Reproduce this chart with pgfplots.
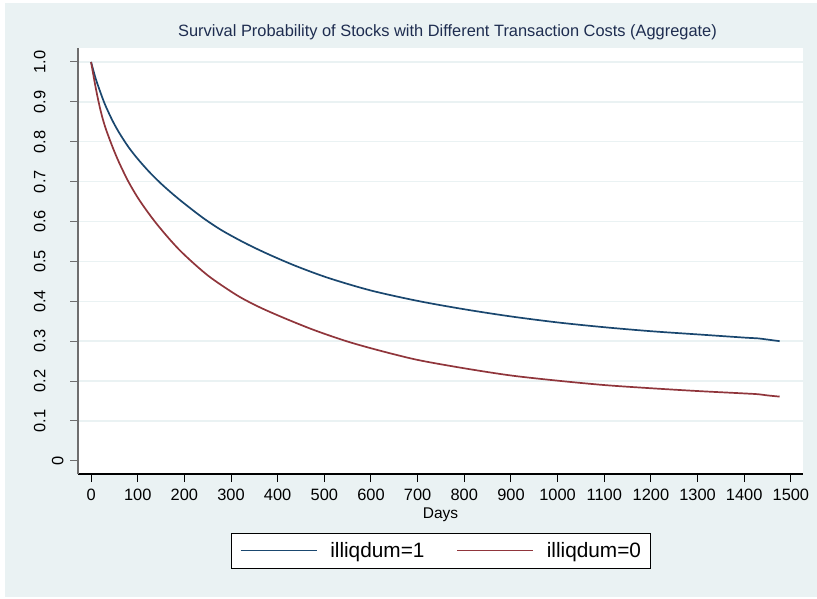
\documentclass[border=0pt]{standalone}
\usepackage{pgfplots}
\pgfplotsset{compat=1.18}
\usepackage{fontspec}
\setmainfont{Liberation Sans}
\definecolor{bgc}{RGB}{234,242,243}
\definecolor{sblue}{RGB}{26,71,111}
\definecolor{sred}{RGB}{144,53,59}
\definecolor{ttl}{RGB}{30,45,80}
\definecolor{ygray}{RGB}{110,110,110}
\begin{document}
\begin{tikzpicture}
\useasboundingbox (0,0) rectangle (817pt,598pt);
\fill[bgc] (5pt,1pt) rectangle (817pt,595pt);
\begin{axis}[
 at={(78pt,124pt)}, anchor=south west,
 scale only axis, width=725pt, height=426pt,
 xmin=-28, xmax=1526, ymin=-0.033, ymax=1.035,
 axis background/.style={fill=white},
 axis x line*=bottom, axis y line*=left,
 x axis line style={black, line width=1.2pt, -},
 y axis line style={ygray, line width=1.6pt, -},
 xtick={0,100,200,300,400,500,600,700,800,900,1000,1100,1200,1300,1400,1500},
 xticklabels={0,100,200,300,400,500,600,700,800,900,1000,1100,1200,1300,1400,1500},
 ytick={0.1,0.2,0.3,0.4,0.5,0.6,0.7,0.8,0.9,1.0},
 yticklabels={0.1,0.2,0.3,0.4,0.5,0.6,0.7,0.8,0.9,1.0},
 extra y ticks={0}, extra y tick labels={0},
 extra y tick style={ymajorgrids=false, yticklabel shift=3pt},
 ymajorgrids, grid style={bgc, line width=1.4pt},
 tick align=outside,
 major tick length=8pt,
 xtick style={black, line width=1pt},
 ytick style={ygray, line width=1pt},
 tick label style={font=\fontsize{16.4}{19}\selectfont},
 /pgf/number format/assume math mode=true,
 /pgf/number format/1000 sep={},
 xticklabel shift=3.5pt,
 yticklabel style={rotate=90, anchor=south},
 yticklabel shift=21pt,
 xlabel={Days},
 xlabel style={at={(axis description cs:0.5,0)}, anchor=base, yshift=-44.5pt, font=\fontsize{15.5}{18}\selectfont},
 title={Survival Probability of Stocks with Different Transaction Costs (Aggregate)},
 title style={at={(axis description cs:0.5,1)}, anchor=base, yshift=5.5pt, xshift=7pt, font=\fontsize{16.4}{19}\selectfont, text=ttl},
 legend columns=2,
 legend style={at={(axis description cs:0.5,-0.1385)}, anchor=north, draw=black, fill=white, line width=0.8pt,
   font=\fontsize{20.8}{24}\selectfont, inner xsep=9pt, inner ysep=9pt,
   nodes={inner sep=0pt}, column sep=13pt,
   /tikz/every even column/.append style={column sep=32pt}},
 legend image code/.code={\draw[#1, line width=1.3pt] (0pt,0pt) -- (76pt,0pt);},
]
\addplot[sblue, line width=1.7pt, smooth] coordinates {
(0,1.000) (10,0.958) (20,0.924) (30,0.893) (45,0.855) (60,0.823) (80,0.787)
(100,0.757) (125,0.724) (150,0.695) (175,0.669) (200,0.645) (240,0.609)
(280,0.578) (330,0.546) (380,0.518) (440,0.488) (510,0.458) (600,0.427)
(700,0.401) (800,0.380) (900,0.362) (1000,0.347) (1100,0.335) (1200,0.325)
(1300,0.317) (1400,0.309) (1430,0.307) (1450,0.304) (1476,0.300)
};
\addlegendentry{illiqdum=1}
\addplot[sred, line width=1.7pt, smooth] coordinates {
(0,1.000) (10,0.935) (20,0.880) (30,0.838) (45,0.790) (60,0.748) (80,0.700)
(100,0.660) (120,0.626) (140,0.595) (165,0.560) (190,0.528) (220,0.495)
(250,0.465) (280,0.440) (320,0.410) (365,0.383) (420,0.355) (480,0.327)
(550,0.299) (620,0.276) (700,0.253) (800,0.232) (900,0.214) (1000,0.201)
(1100,0.190) (1200,0.182) (1300,0.175) (1400,0.169) (1430,0.167) (1450,0.164)
(1476,0.161)
};
\addlegendentry{illiqdum=0}
\end{axis}
\end{tikzpicture}
\end{document}
